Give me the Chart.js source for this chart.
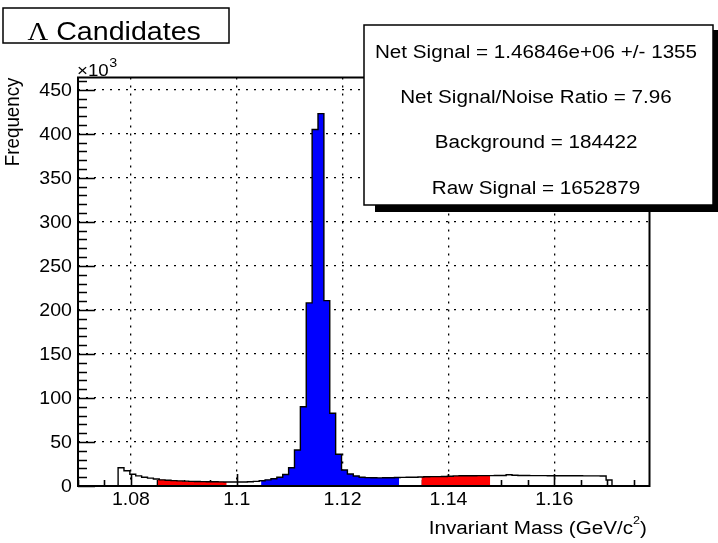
<!DOCTYPE html>
<html><head><meta charset="utf-8">
<script src="https://cdn.jsdelivr.net/npm/chart.js@4.4.0/dist/chart.umd.min.js"></script>
<style>html,body{margin:0;padding:0;background:#fff;}canvas{display:block;}</style>
</head><body>
<canvas id="c" width="718" height="543"></canvas>
<script>
// ---------------- data ----------------
const binStart = 1.0698;
const binWidth = 1 / 900;
// bin contents, in units of 10^3 entries
const countsK = [
  0, 0, 0, 0, 0, 0, 0,
  20.8, 17.4, 13.4, 11.5, 10.0, 8.9, 8.0, 7.0, 6.5, 6.1,
  5.8, 5.5, 5.3, 5.1, 5.0, 4.9, 4.8, 4.7, 4.6, 4.5,
  4.5, 4.6, 4.8, 5.2, 6.0, 7.0, 8.2, 10.0, 13.0, 20.8,
  40.9, 90.0, 208.0, 405.0, 423.0, 210.6, 82.6, 36.0, 18.2, 13.6,
  11.4, 10.0, 9.5, 9.3, 9.2, 9.3, 9.4, 9.6, 9.8, 9.9,
  10.0, 10.2, 10.5, 10.6, 10.7, 10.8, 11.0, 11.5, 11.6, 11.7,
  11.7, 11.8, 11.8, 11.8, 11.9, 12.0, 12.8, 12.2, 11.9, 11.9,
  11.8, 11.8, 11.8, 11.7, 11.7, 11.7, 11.6, 11.6, 11.6, 11.5,
  11.5, 11.5, 11.4, 6.8,
  0, 0, 0, 0, 0, 0
];
const signalRange = [1.1046, 1.1307];
const sidebandLow = [1.0851, 1.0981];
const sidebandHigh = [1.1349, 1.1479];

const xRange = [1.07, 1.178];
const yRange = [0, 464];
const xMajorTicks = [1.08, 1.10, 1.12, 1.14, 1.16];
const xTickLabels = ['1.08', '1.1', '1.12', '1.14', '1.16'];
const yMajorTicks = [0, 50, 100, 150, 200, 250, 300, 350, 400, 450];
const yTickLabels = ['0', '50', '100', '150', '200', '250', '300', '350', '400', '450'];
const xMinorStep = 0.005;
const yMinorStep = 10;

const titleSymbol = 'Λ';
const titleText = ' Candidates';
const xTitleParts = ['Invariant Mass (GeV/c', '2', ')'];
const yTitle = 'Frequency';
const yExponent = ['×10', '3'];
const statsLines = [
  'Net Signal = 1.46846e+06 +/- 1355',
  'Net Signal/Noise Ratio = 7.96',
  'Background = 184422',
  'Raw Signal = 1652879'
];

// ---------------- helpers ----------------
function stepPoints(counts, a, b) {
  const pts = [];
  for (let i = 0; i < counts.length; i++) {
    const lo = binStart + i * binWidth, hi = lo + binWidth;
    if (hi <= a || lo >= b) continue;
    pts.push({x: Math.max(lo, a), y: counts[i]});
  }
  const last = pts[pts.length - 1];
  pts.push({x: b, y: last.y});
  pts.unshift({x: a, y: 0});
  pts.push({x: b, y: 0});
  return pts;
}
const histEnd = binStart + countsK.length * binWidth;

const SX = 1.1;
const SANS = '"Liberation Sans", Arial, Helvetica, sans-serif';
const SERIF = '"Liberation Serif", "Times New Roman", serif';
function txt(ctx, s, x, y, size, align, family) {
  ctx.save();
  ctx.translate(x, y);
  ctx.scale(SX, 1);
  ctx.font = size + 'px ' + (family || SANS);
  ctx.textAlign = align || 'left';
  ctx.textBaseline = 'alphabetic';
  ctx.fillStyle = '#000';
  ctx.fillText(s, 0, 0);
  ctx.restore();
}
function tw(ctx, s, size, family) {
  ctx.save();
  ctx.font = size + 'px ' + (family || SANS);
  const w = ctx.measureText(s).width * SX;
  ctx.restore();
  return w;
}

const rootPlugin = {
  id: 'rootStyle',
  beforeDatasetsDraw(chart) {
    const {ctx, chartArea: a, scales: {x, y}} = chart;
    ctx.save();
    ctx.strokeStyle = '#000';
    ctx.lineWidth = 1.6;
    ctx.beginPath();
    const nx = Math.round((xRange[1] - xRange[0]) / xMinorStep);
    for (let i = 0; i <= nx; i++) {
      const v = xRange[0] + i * xMinorStep;
      if (v > xRange[1]) break;
      const px = Math.round(x.getPixelForValue(v)) + 0.5;
      ctx.moveTo(px, a.bottom); ctx.lineTo(px, a.bottom - 6);
    }
    xMajorTicks.forEach(v => {
      const px = Math.round(x.getPixelForValue(v)) + 0.5;
      ctx.moveTo(px, a.bottom); ctx.lineTo(px, a.bottom - 12);
    });
    const ny = Math.round((yRange[1] - yRange[0]) / yMinorStep);
    for (let i = 0; i <= ny; i++) {
      const v = yRange[0] + i * yMinorStep;
      const py = Math.round(y.getPixelForValue(v)) + 0.5;
      ctx.moveTo(a.left, py); ctx.lineTo(a.left + 9, py);
    }
    yMajorTicks.forEach(v => {
      const py = Math.round(y.getPixelForValue(v)) + 0.5;
      ctx.moveTo(a.left, py); ctx.lineTo(a.left + 17, py);
    });
    ctx.stroke();
    ctx.restore();
  },
  afterDatasetsDraw(chart) {
    const {ctx, chartArea: a, scales: {x, y}} = chart;
    ctx.save();
    // frame
    ctx.strokeStyle = '#000';
    ctx.lineWidth = 2;
    ctx.strokeRect(a.left, a.top, a.right - a.left, a.bottom - a.top);

    // tick labels
    yMajorTicks.forEach((v, i) => {
      txt(ctx, yTickLabels[i], 72, y.getPixelForValue(v) + 6.4, 17.8, 'right');
    });
    xMajorTicks.forEach((v, i) => {
      txt(ctx, xTickLabels[i], x.getPixelForValue(v), 505, 17.8, 'center');
    });

    // x title with superscript, right aligned to frame
    const fs = 18.8, fsup = 11.5;
    const w1 = tw(ctx, xTitleParts[0], fs), w2 = tw(ctx, xTitleParts[1], fsup), w3 = tw(ctx, xTitleParts[2], fs);
    let x0 = 647 - (w1 + w2 + w3);
    txt(ctx, xTitleParts[0], x0, 534, fs);
    txt(ctx, xTitleParts[1], x0 + w1, 523.5, fsup);
    txt(ctx, xTitleParts[2], x0 + w1 + w2, 534, fs);

    // y title rotated, right aligned to frame top
    ctx.save();
    ctx.translate(18.5, a.top);
    ctx.scale(SX, 1);
    ctx.rotate(-Math.PI / 2);
    ctx.font = fs + 'px ' + SANS;
    ctx.textAlign = 'right';
    ctx.textBaseline = 'alphabetic';
    ctx.fillStyle = '#000';
    ctx.fillText(yTitle, 0, 0);
    ctx.restore();

    // exponent x10^3
    const we = tw(ctx, yExponent[0], 17);
    txt(ctx, yExponent[0], 77, 75.5, 17);
    txt(ctx, yExponent[1], 77 + we + 0.5, 66.5, 13);

    // title box
    ctx.fillStyle = '#fff';
    ctx.fillRect(3, 8, 226, 35);
    ctx.lineWidth = 1.5;
    ctx.strokeRect(3, 8, 226, 35);
    const tsz = 26;
    const wl = tw(ctx, titleSymbol, tsz, SERIF), wt = tw(ctx, titleText, tsz);
    const tx0 = 114.2 - (wl + wt) / 2;
    txt(ctx, titleSymbol, tx0, 39.5, tsz, 'left', SERIF);
    txt(ctx, titleText, tx0 + wl, 39.5, tsz);

    // stats box with shadow
    ctx.fillStyle = '#000';
    ctx.fillRect(713, 30, 6, 182);
    ctx.fillRect(375, 205, 344, 7);
    ctx.fillStyle = '#fff';
    ctx.fillRect(364, 25, 349, 180);
    ctx.lineWidth = 1.5;
    ctx.strokeStyle = '#000';
    ctx.strokeRect(364, 25, 349, 180);
    const base = [57.5, 102.5, 147.5, 193.5];
    statsLines.forEach((s, i) => txt(ctx, s, 536, base[i], 18.8, 'center'));
    ctx.restore();
  }
};

new Chart(document.getElementById('c'), {
  type: 'line',
  data: {
    datasets: [
      {data: stepPoints(countsK, binStart, histEnd), stepped: true, fill: false,
       borderColor: '#000', borderWidth: 1.4, pointRadius: 0, order: 0},
      {data: stepPoints(countsK, signalRange[0], signalRange[1]), stepped: true, fill: 'origin',
       backgroundColor: '#0000ff', borderColor: 'transparent', borderWidth: 1, pointRadius: 0, order: 1},
      {data: stepPoints(countsK, sidebandLow[0], sidebandLow[1]), stepped: true, fill: 'origin',
       backgroundColor: '#ff0000', borderColor: 'transparent', borderWidth: 1, pointRadius: 0, order: 1},
      {data: stepPoints(countsK, sidebandHigh[0], sidebandHigh[1]), stepped: true, fill: 'origin',
       backgroundColor: '#ff0000', borderColor: 'transparent', borderWidth: 1, pointRadius: 0, order: 1}
    ]
  },
  options: {
    responsive: false,
    animation: false,
    events: [],
    layout: {padding: {left: 78, right: 68.5, top: 77.5, bottom: 57}},
    plugins: {legend: {display: false}, tooltip: {enabled: false}, title: {display: false}},
    scales: {
      x: {
        type: 'linear', min: xRange[0], max: xRange[1],
        afterBuildTicks: s => { s.ticks = xMajorTicks.map(v => ({value: v})); },
        ticks: {display: false},
        grid: {color: '#000', lineWidth: 1.3, drawTicks: false},
        border: {display: false, dash: [2, 6]}
      },
      y: {
        type: 'linear', min: yRange[0], max: yRange[1],
        afterBuildTicks: s => { s.ticks = yMajorTicks.map(v => ({value: v})); },
        ticks: {display: false},
        grid: {color: '#000', lineWidth: 1.3, drawTicks: false},
        border: {display: false, dash: [2, 6]}
      }
    }
  },
  plugins: [rootPlugin]
});
</script>
</body></html>
